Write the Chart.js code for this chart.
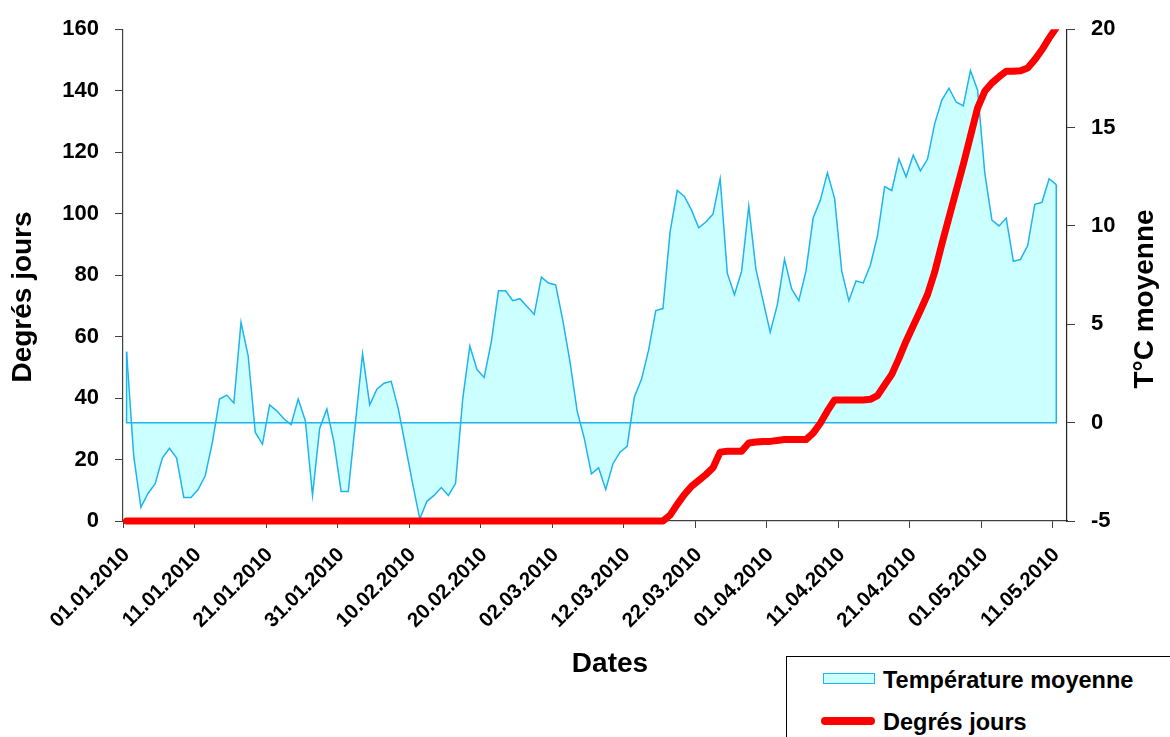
<!DOCTYPE html>
<html>
<head>
<meta charset="utf-8">
<script src="https://cdn.jsdelivr.net/npm/chart.js@4.4.1/dist/chart.umd.min.js"></script>
<style>
  body { margin: 0; background: #fff; }
  #wrap { position: relative; width: 1170px; height: 737px; overflow: hidden; }
  #legend { position: absolute; left: 786px; top: 656px; width: 400px; height: 100px;
            border: 1.5px solid #000; background: #fff; font: bold 23.5px "Liberation Sans", Arial, sans-serif; }
  .item { position: absolute; left: 96px; line-height: 24px; white-space: nowrap; }
  .sw { position: absolute; }
</style>
</head>
<body>
<div id="wrap">
  <canvas id="chart" width="1170" height="737"></canvas>
  <div id="legend"></div>
</div>
<script>
// Températures moyennes (°C), du 01.01.2010 au 11.05.2010
const tempMoyenne = [
  3.6, -1.7, -4.3, -3.6, -3.1, -1.8, -1.3, -1.8, -3.8, -3.8,
  -3.4, -2.7, -1.0, 1.2, 1.4, 1.0, 5.1, 3.4, -0.5, -1.1,
  0.9, 0.6, 0.2, -0.1, 1.2, 0.1, -3.7, -0.3, 0.7, -1.0,
  -3.5, -3.5, 0.0, 3.5, 0.9, 1.7, 2.0, 2.1, 0.7, -1.2,
  -3.1, -4.9, -4.0, -3.7, -3.3, -3.7, -3.1, 1.2, 3.9, 2.7,
  2.3, 4.1, 6.7, 6.7, 6.2, 6.3, 5.9, 5.5, 7.4, 7.1,
  7.0, 5.2, 3.1, 0.6, -0.8, -2.6, -2.3, -3.4, -2.1, -1.5,
  -1.2, 1.3, 2.2, 3.7, 5.7, 5.8, 9.7, 11.8, 11.5, 10.8,
  9.9, 10.2, 10.6, 12.4, 7.6, 6.5, 7.7, 11.0, 7.8, 6.2,
  4.6, 6.0, 8.3, 6.8, 6.2, 7.7, 10.4, 11.3, 12.7, 11.4,
  7.7, 6.2, 7.2, 7.1, 8.0, 9.5, 12.0, 11.8, 13.4, 12.5,
  13.6, 12.8, 13.4, 15.2, 16.4, 17.0, 16.3, 16.1, 17.9, 16.9,
  12.7, 10.3, 10.0, 10.4, 8.2, 8.3, 9.0, 11.1, 11.2, 12.4,
  12.1
];

// Degrés jours cumulés
const degresJours = [
  0, 0, 0, 0, 0, 0, 0, 0, 0, 0, 0, 0, 0, 0, 0,
  0, 0, 0, 0, 0, 0, 0, 0, 0, 0, 0, 0, 0, 0, 0,
  0, 0, 0, 0, 0, 0, 0, 0, 0, 0, 0, 0, 0, 0, 0,
  0, 0, 0, 0, 0, 0, 0, 0, 0, 0, 0, 0, 0, 0, 0,
  0, 0, 0, 0, 0, 0, 0, 0, 0, 0, 0, 0, 0, 0, 0,
  0, 1.9, 5.4, 8.6, 11.3, 13.2, 15.1, 17.3, 22.4, 22.7,
  22.7, 22.7, 25.4, 25.7, 25.9, 25.9, 26.2, 26.5, 26.5, 26.5,
  26.5, 28.6, 31.8, 35.8, 39.4, 39.4, 39.4, 39.4, 39.4, 39.6,
  40.8, 44.3, 47.7, 52.9, 58.5, 63.5, 68.5, 73.7, 81, 90.1,
  98.8, 107.4, 116, 125.2, 134.4, 139.8, 142.5, 144.5, 146.3, 146.3,
  146.5, 147.4, 150.1, 153.3, 157.1, 160.5
];

// une catégorie par jour, du 01.01.2010 au 12.05.2010
const nbJours = 132;
const dates = [];
for (let i = 0; i < nbJours; i++) {
  const d = new Date(2010, 0, 1 + i);
  dates.push(String(d.getDate()).padStart(2, '0') + '.' + String(d.getMonth() + 1).padStart(2, '0') + '.' + d.getFullYear());
}

const ticksGauche = [0, 20, 40, 60, 80, 100, 120, 140, 160];
const ticksDroite = [-5, 0, 5, 10, 15, 20];

const nomTemp = 'Température moyenne';
const nomDJ = 'Degrés jours';
const titreX = 'Dates';
const titreY = 'Degrés jours';
const titreY2 = 'T°C moyenne';

const FONT = '"Liberation Sans", Arial, sans-serif';
const cyan = '#1eb4ee';
const cyanClair = '#ccffff';
const rouge = '#ff0000';
const axe = '#404040';

// contour de l'aire (ligne de base + bords verticaux), comme dans Excel
const contourAire = {
  id: 'contourAire',
  afterDatasetDraw(chart, args) {
    if (args.index !== 1) return;
    const pts = args.meta.data;
    const y0 = chart.scales.y2.getPixelForValue(0);
    const c = chart.ctx;
    c.save();
    c.strokeStyle = cyan;
    c.lineWidth = 1.5;
    c.beginPath();
    c.moveTo(pts[0].x, pts[0].y);
    c.lineTo(pts[0].x, y0);
    c.lineTo(pts[pts.length - 1].x, y0);
    c.lineTo(pts[pts.length - 1].x, pts[pts.length - 1].y);
    c.stroke();
    c.restore();
  }
};

// titres des axes
const titres = {
  id: 'titres',
  afterDraw(chart) {
    const c = chart.ctx;
    c.save();
    c.fillStyle = '#000';
    c.font = 'bold 28px ' + FONT;
    c.textAlign = 'center';
    c.textBaseline = 'alphabetic';
    c.fillText(titreX, 610, 672);
    c.translate(31, 297);
    c.rotate(-Math.PI / 2);
    c.fillText(titreY, 0, 0);
    c.restore();
    c.save();
    c.fillStyle = '#000';
    c.font = 'bold 28px ' + FONT;
    c.textAlign = 'center';
    c.translate(1153, 299);
    c.rotate(-Math.PI / 2);
    c.fillText(titreY2, 0, 0);
    c.restore();
  }
};

const ctx = document.getElementById('chart').getContext('2d');
const chart = new Chart(ctx, {
  type: 'line',
  data: {
    labels: dates,
    datasets: [{
      label: nomDJ,
      data: degresJours,
      yAxisID: 'y',
      borderColor: rouge,
      borderWidth: 7,
      borderCapStyle: 'round',
      borderJoinStyle: 'round',
      pointRadius: 0,
      fill: false,
      tension: 0,
      clip: { left: 10, top: 0, right: 10, bottom: 10 }
    }, {
      label: nomTemp,
      data: tempMoyenne,
      yAxisID: 'y2',
      borderColor: cyan,
      borderWidth: 1.5,
      backgroundColor: cyanClair,
      pointRadius: 0,
      fill: 'origin',
      tension: 0
    }]
  },
  options: {
    responsive: false,
    animation: false,
    layout: { padding: { top: 25, left: 0, right: 0, bottom: 0 } },
    plugins: { legend: { display: false }, tooltip: { enabled: false } },
    scales: {
      x: {
        type: 'category',
        offset: true,
        afterFit(s) { s.height = 216; },
        grid: {
          offset: true,
          drawOnChartArea: false,
          tickLength: 7,
          color: c => (c.index !== undefined && c.index % 10 === 0) ? axe : 'rgba(0,0,0,0)'
        },
        border: { color: axe, width: 1.2 },
        ticks: {
          autoSkip: false,
          minRotation: 45,
          maxRotation: 45,
          padding: 15,
          color: '#000',
          font: { family: FONT, size: 20.5, weight: 'bold' },
          callback: (v, i) => i % 10 === 0 ? dates[i] : ''
        }
      },
      y: {
        position: 'left',
        min: 0,
        max: 160,
        afterFit(s) { s.width = 123; },
        afterBuildTicks(s) { s.ticks = ticksGauche.map(v => ({ value: v })); },
        grid: { drawOnChartArea: false, tickLength: 8, color: axe },
        border: { color: axe, width: 1.2 },
        ticks: {
          padding: 16,
          color: '#000',
          font: { family: FONT, size: 22, weight: 'bold' }
        }
      },
      y2: {
        position: 'right',
        min: -5,
        max: 20,
        afterFit(s) { s.width = 103; },
        afterBuildTicks(s) { s.ticks = ticksDroite.map(v => ({ value: v })); },
        grid: { drawOnChartArea: false, tickLength: 8, color: axe },
        border: { color: '#202020', width: 1.2 },
        ticks: {
          padding: 16,
          color: '#000',
          font: { family: FONT, size: 22, weight: 'bold' }
        }
      }
    }
  },
  plugins: [contourAire, titres]
});

// légende
const leg = document.getElementById('legend');
const ds = chart.data.datasets;
leg.innerHTML =
  '<div class="sw" style="left:36px;top:16px;width:50px;height:9px;background:' + ds[1].backgroundColor + ';border:1.5px solid ' + ds[1].borderColor + '"></div>' +
  '<div class="item" style="top:11px">' + ds[1].label + '</div>' +
  '<div class="sw" style="left:34px;top:60px;width:54px;height:8px;border-radius:4px;background:' + ds[0].borderColor + '"></div>' +
  '<div class="item" style="top:53px">' + ds[0].label + '</div>';
</script>
</body>
</html>
